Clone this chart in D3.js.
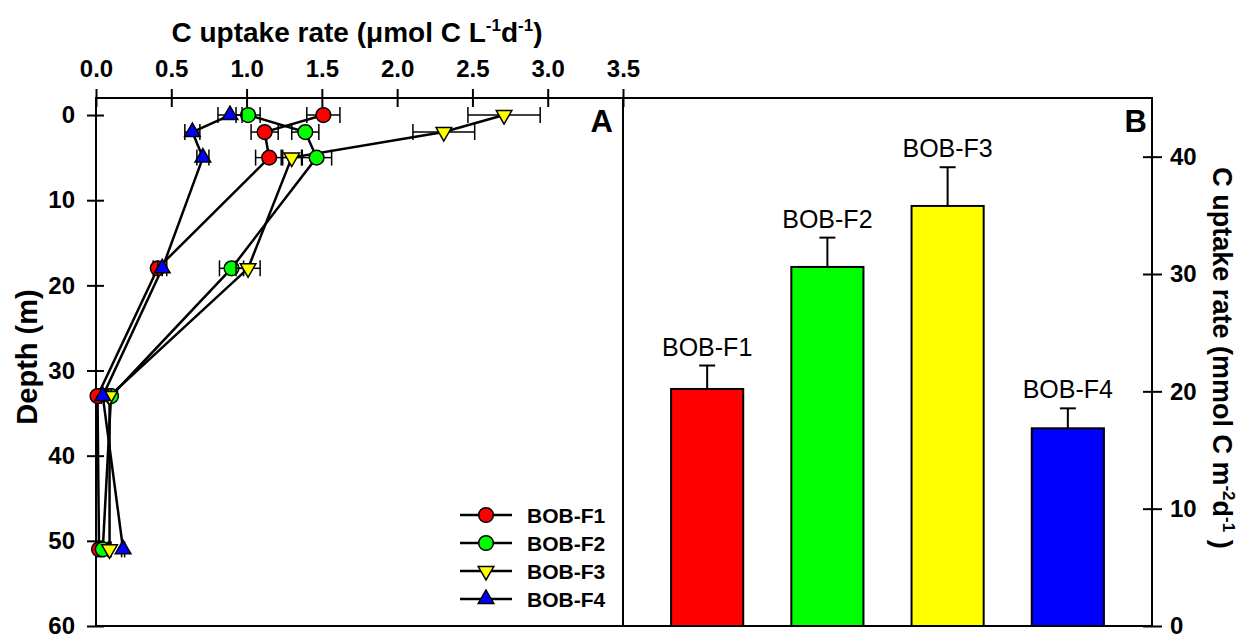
<!DOCTYPE html>
<html lang="en">
<head>
    <meta charset="UTF-8">
    <title>C uptake rate profiles</title>
    <script src="https://cdn.jsdelivr.net/npm/d3@7"></script>
    <style>
        body { margin: 0; background: #fff; }
        svg text { font-family: "Liberation Sans", Arial, sans-serif; fill: #000; }
    </style>
</head>
<body>
<div class="chart"></div>

<script type="text/javascript">
    // panel A: depth profiles
    var depths = [0, 2, 5, 18, 33, 51];
    var series = ['BOB-F1', 'BOB-F2', 'BOB-F3', 'BOB-F4'];
    var colors = ['#ff0000', '#00ff00', '#ffff00', '#0000ff'];
    var f1 = [1.51, 1.12, 1.15, 0.41, 0.01, 0.02];
    var f1Err = [0.11, 0.09, 0.09, 0.03, 0.01, 0.01];
    var f2 = [1.01, 1.39, 1.465, 0.90, 0.10, 0.045];
    var f2Err = [0.08, 0.09, 0.10, 0.08, 0.01, 0.01];
    var f3 = [2.71, 2.31, 1.30, 1.01, 0.09, 0.09];
    var f3Err = [0.24, 0.205, 0.07, 0.08, 0.01, 0.01];
    var f4 = [0.89, 0.64, 0.71, 0.44, 0.045, 0.18];
    var f4Err = [0.08, 0.05, 0.04, 0.03, 0.01, 0.01];
    var rateTicks = [0, 0.5, 1.0, 1.5, 2.0, 2.5, 3.0, 3.5];
    var depthTicks = [0, 10, 20, 30, 40, 50, 60];

    // panel B: integrated uptake
    var integrated = [20.2, 30.6, 35.8, 16.85];
    var integratedErr = [2.0, 2.5, 3.3, 1.7];
    var areaTicks = [0, 10, 20, 30, 40];

    var values = [f1, f2, f3, f4];
    var errs = [f1Err, f2Err, f3Err, f4Err];

    var w = 1246, h = 635;
    // (window.top is read-only, so plot edges get their own names)
    var xL = 96, xM = 623, xR = 1152, yT = 98, yB = 626;

    var svg = d3.select('.chart').append('svg')
            .attr('width', w)
            .attr('height', h);

    var x = d3.scaleLinear().domain([0, 3.5]).range([xL, xM]);
    var y = d3.scaleLinear().domain([-2, 60]).range([yT, yB]);
    var band = d3.scaleBand().domain(series).range([xM, xR]).padding(0.4);
    var y2 = d3.scaleLinear().domain([0, 45]).range([yB, yT]);

    // frame
    svg.append('rect')
            .attr('x', xL).attr('y', yT)
            .attr('width', xR - xL).attr('height', yB - yT)
            .attr('fill', 'none').attr('stroke', '#000').attr('stroke-width', 2);
    svg.append('line')
            .attr('x1', xM).attr('x2', xM).attr('y1', yT).attr('y2', yB)
            .attr('stroke', '#000').attr('stroke-width', 2);

    // axes, ticks cross the axis line
    var topAxis = svg.append('g')
            .attr('transform', 'translate(0,' + yT + ')')
            .call(d3.axisTop(x).tickValues(rateTicks).tickFormat(d3.format('.1f'))
                    .tickSize(9).tickPadding(12));
    var leftAxis = svg.append('g')
            .attr('transform', 'translate(' + xL + ',0)')
            .call(d3.axisLeft(y).tickValues(depthTicks).tickSize(9).tickPadding(12));
    var rightAxis = svg.append('g')
            .attr('transform', 'translate(' + xR + ',0)')
            .call(d3.axisRight(y2).tickValues(areaTicks).tickSize(10).tickPadding(8));

    topAxis.selectAll('.tick line').attr('y1', 9);
    leftAxis.selectAll('.tick line').attr('x1', 8);
    rightAxis.selectAll('.tick line').attr('x1', -9);
    [topAxis, leftAxis, rightAxis].forEach(function(g) {
        g.select('.domain').remove();
        g.selectAll('.tick line').attr('stroke', '#000').attr('stroke-width', 2);
        g.selectAll('.tick text')
                .attr('font-family', '"Liberation Sans", Arial, sans-serif')
                .attr('font-size', 24).attr('font-weight', 'bold');
    });

    // axis titles
    var t1 = svg.append('text')
            .attr('x', 357).attr('y', 42)
            .attr('text-anchor', 'middle')
            .attr('font-size', 28).attr('font-weight', 'bold');
    t1.append('tspan').text('C uptake rate (\u03bcmol C L');
    t1.append('tspan').attr('dy', -11).attr('font-size', 17).text('-1');
    t1.append('tspan').attr('dy', 11).text('d');
    t1.append('tspan').attr('dy', -11).attr('font-size', 17).text('-1');
    t1.append('tspan').attr('dy', 11).text(')');

    svg.append('text')
            .attr('transform', 'translate(37,357) rotate(-90)')
            .attr('text-anchor', 'middle')
            .attr('font-size', 29).attr('font-weight', 'bold')
            .text('Depth (m)');

    var t2 = svg.append('text')
            .attr('transform', 'translate(1213,358) rotate(90)')
            .attr('text-anchor', 'middle')
            .attr('font-size', 27).attr('font-weight', 'bold');
    t2.append('tspan').text('C uptake rate (mmol C m');
    t2.append('tspan').attr('dy', -10).attr('font-size', 17).text('-2');
    t2.append('tspan').attr('dy', 10).text('d');
    t2.append('tspan').attr('dy', -10).attr('font-size', 17).text('-1');
    t2.append('tspan').attr('dy', 10).text(' )');

    // panel letters
    svg.append('text').attr('x', 613).attr('y', 132).attr('text-anchor', 'end')
            .attr('font-size', 31).attr('font-weight', 'bold').text('A');
    svg.append('text').attr('x', 1147).attr('y', 132).attr('text-anchor', 'end')
            .attr('font-size', 31).attr('font-weight', 'bold').text('B');

    // markers
    function symbolFor(i) {
        if (i < 2) return d3.symbol().type(d3.symbolCircle).size(170)();
        return d3.symbol().type(d3.symbolTriangle).size(105)();
    }
    function markerTransform(i, cx, cy) {
        return 'translate(' + cx + ',' + cy + ')' + (i === 2 ? ' rotate(180)' : '');
    }

    // profile lines
    var line = d3.line()
            .x(function(d) { return x(d[0]); })
            .y(function(d) { return y(d[1]); });
    values.forEach(function(vals) {
        svg.append('path')
                .datum(vals.map(function(v, j) { return [v, depths[j]]; }))
                .attr('d', line)
                .attr('fill', 'none')
                .attr('stroke', '#000')
                .attr('stroke-width', 2.5);
    });

    // error bars and markers, series by series
    values.forEach(function(vals, i) {
        var g = svg.append('g');
        vals.forEach(function(v, j) {
            var cy = y(depths[j]);
            var e = errs[i][j];
            g.append('line')
                    .attr('x1', x(v - e)).attr('x2', x(v + e))
                    .attr('y1', cy).attr('y2', cy)
                    .attr('stroke', '#000').attr('stroke-width', 1.5);
            [v - e, v + e].forEach(function(c) {
                g.append('line')
                        .attr('x1', x(c)).attr('x2', x(c))
                        .attr('y1', cy - 8).attr('y2', cy + 8)
                        .attr('stroke', '#000').attr('stroke-width', 1.5);
            });
        });
        g.selectAll('path')
                .data(vals)
                .enter()
                .append('path')
                .attr('d', symbolFor(i))
                .attr('transform', function(d, j) { return markerTransform(i, x(d), y(depths[j])); })
                .attr('fill', colors[i])
                .attr('stroke', '#000')
                .attr('stroke-width', 1.5);
    });

    // legend
    var legend = svg.append('g');
    series.forEach(function(s, i) {
        var ly = 515 + i * 28;
        legend.append('line')
                .attr('x1', 460).attr('x2', 512).attr('y1', ly).attr('y2', ly)
                .attr('stroke', '#000').attr('stroke-width', 2.5);
        legend.append('path')
                .attr('d', symbolFor(i))
                .attr('transform', markerTransform(i, 486, ly))
                .attr('fill', colors[i]).attr('stroke', '#000').attr('stroke-width', 1.5);
        legend.append('text')
                .attr('x', 527).attr('y', ly)
                .attr('dominant-baseline', 'central')
                .attr('font-size', 21).attr('font-weight', 'bold')
                .text(s);
    });

    // bars
    var bars = svg.append('g');
    bars.selectAll('rect')
            .data(integrated)
            .enter()
            .append('rect')
            .attr('x', function(d, i) { return band(series[i]); })
            .attr('y', function(d) { return y2(d); })
            .attr('width', band.bandwidth())
            .attr('height', function(d) { return yB - y2(d); })
            .attr('fill', function(d, i) { return colors[i]; })
            .attr('stroke', '#000')
            .attr('stroke-width', 2);

    integrated.forEach(function(d, i) {
        var cx = band(series[i]) + band.bandwidth() / 2;
        var tipY = y2(d + integratedErr[i]);
        bars.append('line')
                .attr('x1', cx).attr('x2', cx).attr('y1', y2(d)).attr('y2', tipY)
                .attr('stroke', '#000').attr('stroke-width', 2);
        bars.append('line')
                .attr('x1', cx - 8).attr('x2', cx + 8).attr('y1', tipY).attr('y2', tipY)
                .attr('stroke', '#000').attr('stroke-width', 2);
        bars.append('text')
                .attr('x', cx).attr('y', tipY - 10)
                .attr('text-anchor', 'middle')
                .attr('font-size', 25)
                .text(series[i]);
    });
</script>
</body>
</html>
